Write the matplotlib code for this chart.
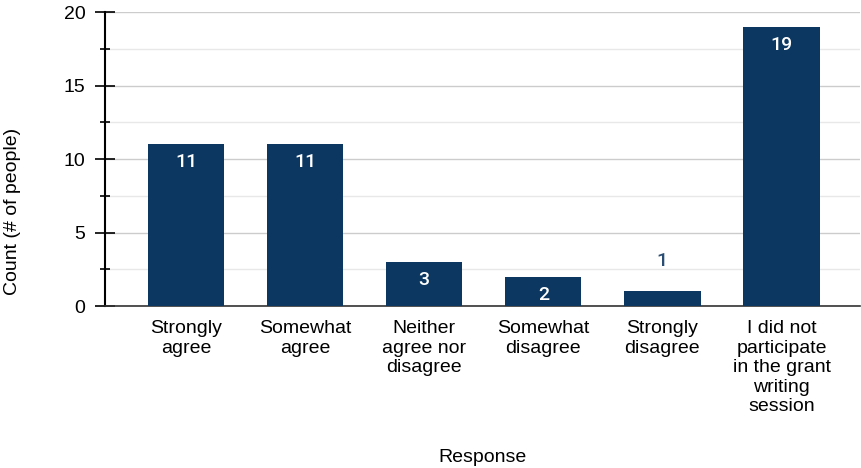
import matplotlib.pyplot as plt
from matplotlib.ticker import MultipleLocator

# survey responses
responses = ['Strongly\nagree', 'Somewhat\nagree', 'Neither\nagree nor\ndisagree',
             'Somewhat\ndisagree', 'Strongly\ndisagree',
             'I did not\nparticipate\nin the grant\nwriting\nsession']
counts = [11, 11, 3, 2, 1, 19]

bar_color = '#0b3761'
font = 'Liberation Sans'

fig = plt.figure(figsize=(8.61, 4.68), dpi=100)
ax = fig.add_axes([0.122, 0.346, 0.877, 0.628])

x = range(len(counts))
bars = ax.bar(x, counts, width=0.64, color=bar_color, zorder=3)

# value labels: inside the bar when there is room, above it otherwise
for xi, c in zip(x, counts):
    if c >= 2:
        ax.annotate(str(c), (xi, c), xytext=(0, -13), textcoords='offset points',
                    ha='center', va='center', color='white', fontsize=14,
                    family='Roboto', fontweight='medium', zorder=4)
    else:
        ax.annotate(str(c), (xi, c), xytext=(0, 22), textcoords='offset points',
                    ha='center', va='center', color='#2a4d73', fontsize=14,
                    family='Roboto', fontweight='medium', zorder=4)

ax.set_xlim(-0.68, 5.66)
ax.set_ylim(0, 20)
ax.yaxis.set_major_locator(MultipleLocator(5))
ax.yaxis.set_minor_locator(MultipleLocator(2.5))
ax.grid(axis='y', which='major', color='#cccccc', linewidth=1, zorder=0)
ax.grid(axis='y', which='minor', color='#e8e8e8', linewidth=1, zorder=0)

ax.set_xticks(list(x))
ax.set_xticklabels(responses, family=font, fontsize=14, linespacing=1.2)
ax.tick_params(axis='x', length=0, pad=10)
ax.tick_params(axis='y', which='major', direction='inout', length=14, width=1.2,
               labelsize=14, pad=7)
ax.tick_params(axis='y', which='minor', direction='inout', length=7, width=1.2)
for lab in ax.get_yticklabels():
    lab.set_family(font)

for s in ['top', 'right']:
    ax.spines[s].set_visible(False)
ax.spines['left'].set_linewidth(1.5)
ax.spines['bottom'].set_color('#333333')
ax.spines['bottom'].set_linewidth(1.2)

ax.set_ylabel('Count (# of people)', family=font, fontsize=14, va='center')
ax.yaxis.set_label_coords(-0.122, 0.323)
ax.set_xlabel('Response', family=font, fontsize=14, va='center')
ax.xaxis.set_label_coords(0.5, -0.514)

fig.savefig('out.png', dpi=100)
